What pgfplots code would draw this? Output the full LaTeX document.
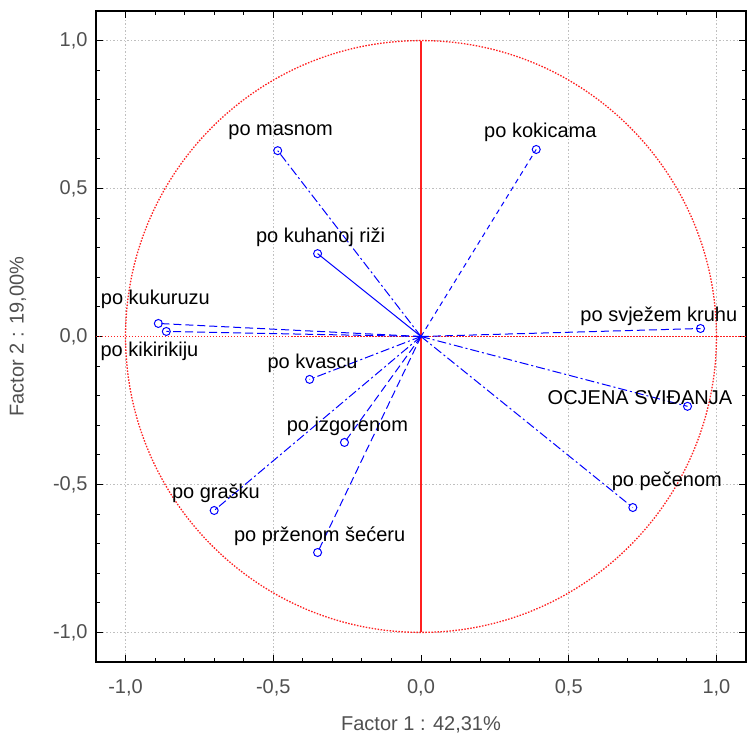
\documentclass[border=0pt]{standalone}
\usepackage{fontspec}
\setmainfont{Liberation Sans}
\usepackage{pgfplots}
\pgfplotsset{compat=1.18}
\definecolor{tickgray}{HTML}{505050}
\definecolor{cred}{HTML}{FF2020}
\begin{document}
\begin{tikzpicture}[font=\fontsize{20}{24}\selectfont]
\useasboundingbox (-96pt,-73pt) rectangle (652pt,662pt);
\begin{axis}[
  scale only axis, width=650pt, height=651pt,
  xmin=-1.1, xmax=1.1, ymin=-1.1, ymax=1.1,
  xtick={-1,-0.5,0.5,1}, ytick={-1,-0.5,0.5,1},
  extra x ticks={0}, extra y ticks={0},
  extra tick style={grid=none},
  minor xtick={-1.1,-1,...,1.1}, minor ytick={-1.1,-1,...,1.1},
  tick align=inside, ticks=both,
  major tick length=7pt, minor tick length=4pt,
  every tick/.style={black, line width=1pt},
  axis line style={black, line width=1.5pt},
  xmajorgrids, ymajorgrids,
  major grid style={gray!50, line width=1pt, dash pattern=on 1.5pt off 2pt},
  /pgf/number format/assume math mode=true,
  /pgf/number format/.cd, use comma, fixed, fixed zerofill, precision=1, /pgfplots/.cd,
  tick label style={font=\fontsize{20}{24}\selectfont, text=tickgray},
  xticklabel style={yshift=-14pt},
  yticklabel style={xshift=-5pt},
  xlabel={Factor 1 : 42,31\%}, ylabel={Factor 2 : 19,00\%},
  label style={font=\fontsize{20}{24}\selectfont, text=tickgray},
  xlabel style={yshift=-14pt},
  ylabel style={yshift=20pt},
  clip=false,
]
% reference circle and cross
\draw[cred, line width=1.3pt, dash pattern=on 1.5pt off 1.5pt] (axis cs:0,0) ellipse [x radius=1, y radius=1];
\draw[cred, line width=1.2pt] (axis cs:0,-1) -- (axis cs:0,1);
\draw[cred, line width=1.3pt, dash pattern=on 1.5pt off 1.5pt] (axis cs:-1.1,0) -- (axis cs:1.1,0);
\pgfplotsset{every axis plot/.append style={blue, line width=1pt, mark=o, mark size=4pt, mark indices={2}, mark options={solid, line width=1pt}}}
\tikzset{ds/.style={dash pattern=on 8pt off 4pt}, dd/.style={dash pattern=on 9pt off 3pt on 2pt off 3pt}, sd/.style={dash pattern=on 5pt off 4pt}}
\addplot[dd] coordinates {(0,0) (-0.485,0.628)};
\addplot[sd] coordinates {(0,0) (0.390,0.632)};
\addplot[solid] coordinates {(0,0) (-0.350,0.280)};
\addplot[ds] coordinates {(0,0) (-0.889,0.044)};
\addplot[ds] coordinates {(0,0) (-0.862,0.017)};
\addplot[dd] coordinates {(0,0) (-0.377,-0.145)};
\addplot[ds] coordinates {(0,0) (-0.259,-0.358)};
\addplot[dd] coordinates {(0,0) (-0.700,-0.588)};
\addplot[ds] coordinates {(0,0) (-0.350,-0.730)};
\addplot[ds] coordinates {(0,0) (0.946,0.027)};
\addplot[dd] coordinates {(0,0) (0.902,-0.236)};
\addplot[dd] coordinates {(0,0) (0.717,-0.578)};
% labels
\node at (axis cs:-0.475,0.689) {po masnom};
\node at (axis cs:0.404,0.689) {po kokicama};
\node at (axis cs:-0.340,0.334) {po kuhanoj riži};
\node at (axis cs:-0.899,0.125) {po kukuruzu};
\node at (axis cs:-0.919,-0.051) {po kikirikiju};
\node at (axis cs:-0.367,-0.091) {po kvascu};
\node at (axis cs:-0.249,-0.304) {po izgorenom};
\node at (axis cs:-0.694,-0.530) {po grašku};
\node at (axis cs:-0.343,-0.676) {po prženom šećeru};
\node at (axis cs:0.805,0.068) {po svježem kruhu};
\node at (axis cs:0.741,-0.206) {OCJENA SVIĐANJA};
\node at (axis cs:0.832,-0.490) {po pečenom};
\end{axis}
\end{tikzpicture}
\end{document}
